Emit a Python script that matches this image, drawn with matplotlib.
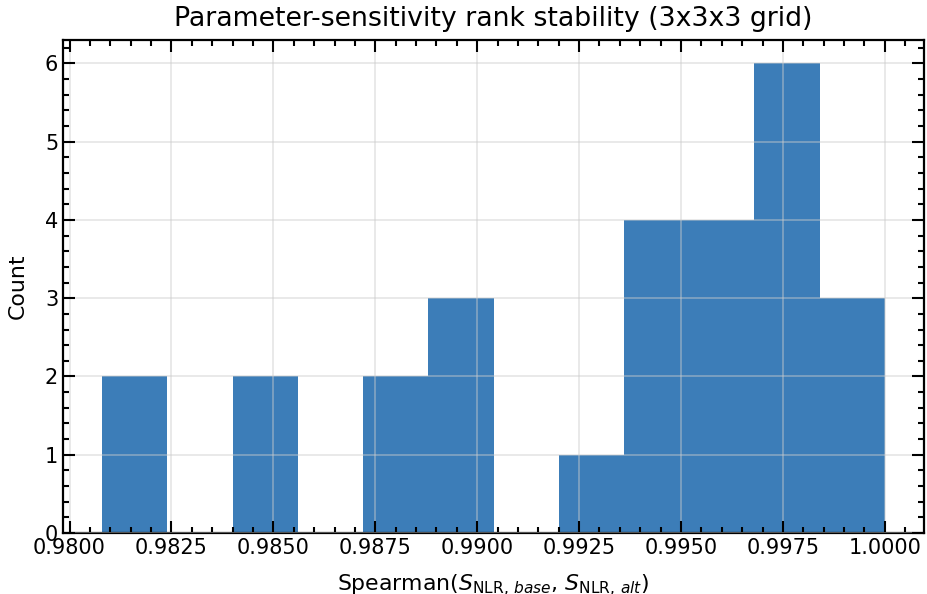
import matplotlib
matplotlib.use("Agg")
import matplotlib.pyplot as plt
from matplotlib.ticker import AutoMinorLocator
import numpy as np

bin_edges = [0.9808, 0.9824, 0.9840, 0.9856, 0.9872, 0.9888, 0.9904,
             0.9920, 0.9936, 0.9952, 0.9968, 0.9984, 1.0000]
counts = [2, 0, 2, 0, 2, 3, 0, 1, 4, 4, 6, 3]

title = "Parameter-sensitivity rank stability (3x3x3 grid)"
xlabel = r"Spearman($S_{\mathrm{NLR},\,base}$, $S_{\mathrm{NLR},\,alt}$)"
ylabel = "Count"

fig = plt.figure(figsize=(9.27, 5.94), dpi=100)
ax = fig.add_axes([63/927, 1-533/594, (924-63)/927, (533-40)/594])

centers = [(bin_edges[i] + bin_edges[i+1]) / 2 for i in range(len(counts))]
ax.hist(centers, bins=bin_edges, weights=counts, color="#3c7db8",
        edgecolor="none", linewidth=0, zorder=1)

ax.set_axisbelow(False)
ax.grid(True, which="major", color="#cccccc", alpha=0.5, linewidth=1.2, zorder=3)

ax.xaxis.set_minor_locator(AutoMinorLocator(5))
ax.yaxis.set_minor_locator(AutoMinorLocator(5))
ax.tick_params(which="both", direction="in", top=True, right=True, width=1.5,
               labelsize=15)
ax.tick_params(which="major", length=8.5)
ax.tick_params(which="minor", length=4.5)
for s in ax.spines.values():
    s.set_linewidth(1.6)
ax.set_xticks(np.arange(0.98, 1.0001, 0.0025))
ax.xaxis.set_major_formatter(matplotlib.ticker.FormatStrFormatter("%.4f"))

ax.set_title(title, fontsize=19.3, pad=10)
ax.set_xlabel(xlabel, fontsize=15.8, labelpad=11)
ax.set_ylabel(ylabel, fontsize=15.8, labelpad=12)

fig.savefig("out.png", dpi=100)
